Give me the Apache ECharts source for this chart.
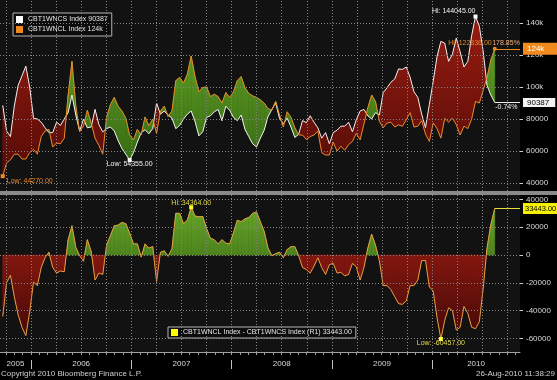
<!DOCTYPE html>
<html><head><meta charset="utf-8">
<script src="https://cdn.jsdelivr.net/npm/echarts@6/dist/echarts.min.js"></script>
<style>html,body{margin:0;padding:0;background:#000}#c{width:557px;height:380px}</style>
</head><body><div id="c"></div>
<script>
const dates = [
'2005-09-20','2005-10-04','2005-10-18','2005-11-01','2005-11-15','2005-11-29','2005-12-13','2005-12-27',
'2006-01-10','2006-01-24','2006-02-07','2006-02-21','2006-03-07','2006-03-21','2006-04-04','2006-04-18','2006-05-02','2006-05-16','2006-05-30','2006-06-13','2006-06-27','2006-07-11','2006-07-25','2006-08-08','2006-08-22','2006-09-05','2006-09-19','2006-10-03','2006-10-17','2006-10-31','2006-11-14','2006-11-28','2006-12-12','2006-12-26',
'2007-01-09','2007-01-23','2007-02-06','2007-02-20','2007-03-06','2007-03-20','2007-04-03','2007-04-17','2007-05-01','2007-05-15','2007-05-29','2007-06-12','2007-06-26','2007-07-10','2007-07-24','2007-08-07','2007-08-21','2007-09-04','2007-09-18','2007-10-02','2007-10-16','2007-10-30','2007-11-13','2007-11-27','2007-12-11','2007-12-25',
'2008-01-08','2008-01-22','2008-02-05','2008-02-19','2008-03-04','2008-03-18','2008-04-01','2008-04-15','2008-04-29','2008-05-13','2008-05-27','2008-06-10','2008-06-24','2008-07-08','2008-07-22','2008-08-05','2008-08-19','2008-09-02','2008-09-16','2008-09-30','2008-10-14','2008-10-28','2008-11-11','2008-11-25','2008-12-09','2008-12-23',
'2009-01-06','2009-01-20','2009-02-03','2009-02-17','2009-03-03','2009-03-17','2009-03-31','2009-04-14','2009-04-28','2009-05-12','2009-05-26','2009-06-09','2009-06-23','2009-07-07','2009-07-21','2009-08-04','2009-08-18','2009-09-01','2009-09-15','2009-09-29','2009-10-13','2009-10-27','2009-11-10','2009-11-24','2009-12-08','2009-12-22',
'2010-01-05','2010-01-19','2010-02-02','2010-02-16','2010-03-02','2010-03-16','2010-03-30','2010-04-13','2010-04-27','2010-05-11','2010-05-25','2010-06-08','2010-06-22','2010-07-06','2010-07-20','2010-08-03','2010-08-17'
];
// CBT1WNCS Index (white)
const ncsValues = [
88500,72500,69000,88000,101000,107000,113000,100000,
80500,80000,78000,74500,71500,71500,78000,76000,80000,84000,95000,82500,72500,80000,74500,75000,86000,76500,72000,74000,75000,72500,66500,61500,58000,54355,
59000,65500,71500,73300,70800,74000,90000,83000,85000,82500,80500,74000,76000,80000,83000,85000,78500,69500,72000,81000,82000,84500,86000,79000,88000,85500,
81000,79000,82500,73500,69000,64500,62500,68000,73000,81500,86000,90000,80500,77000,80500,75000,68500,70500,79000,77700,82000,78000,74500,68000,71500,64500,
71500,73000,75500,75500,78000,72000,79500,85000,86000,82000,80000,84000,82500,96500,99500,103000,105000,111300,111000,112500,106000,97000,93500,83000,74600,89000,
103500,119000,128500,127400,116000,120500,130500,122000,112500,116000,132000,144045,138000,122000,101000,95000,90387
];
// CBT1WNCL Index (orange)
const nclValues = [
44270,52500,54500,58000,58000,55000,55000,59000,
61000,58000,69000,72500,73500,62500,65000,64500,68000,95000,116000,88000,72000,75500,85500,77500,68000,63500,58000,81000,89000,93500,88000,85000,80500,70000,
67000,73500,70000,81300,75800,80000,71000,85000,88000,81500,85000,104000,106000,102500,108000,119364,106500,97000,99700,100000,94000,95500,94000,90000,96500,93500,
97000,104000,106500,99500,96000,94500,93500,92000,90000,86500,85500,91000,82500,75000,84500,81000,74500,70000,70000,67200,69000,70000,72500,59000,57500,57500,
65500,60000,63000,60500,64000,66000,71000,67000,77000,87000,95000,91000,78500,74500,77500,78000,75000,76300,75500,79500,84000,75000,75500,79000,70600,66000,
77500,74000,68043,80400,78000,80500,76500,70000,75500,74000,80000,91000,90000,98000,106000,117000,123830
];
const topTicks = [40000, 60000, 80000, 100000, 120000, 140000];
const bottomTicks = [-60000, -40000, -20000, 0, 20000, 40000];
const years = [2005, 2006, 2007, 2008, 2009, 2010];
const ncsName = 'CBT1WNCS Index';
const nclName = 'CBT1WNCL Index';
const diffName = 'CBT1WNCL Index - CBT1WNCS Index (R1)';
const ncsChangeText = '-0.74%';
const nclChangeText = '178.85%';
const nclHiText = 'Hi: 122836.00';
const axisStart = '2005-09-10', axisEnd = '2010-11-17';

const F = 'Liberation Sans';
function fy(y, m, d) {
  const a = Date.UTC(y, 0, 1), b = Date.UTC(y + 1, 0, 1);
  return y + (Date.UTC(y, m, d) - a) / (b - a);
}
const toYear = s => { const p = s.split('-').map(Number); return fy(p[0], p[1] - 1, p[2]); };
const T = dates.map(toYear);
const n = T.length;
const diffValues = nclValues.map((v, i) => v - ncsValues[i]);
const zeros = T.map(() => 0);
const xMin = toYear(axisStart), xMax = toYear(axisEnd);

const quarterTicks = [], monthTicks = [], yearTicks = [], yearLabelPos = [];
years.concat([2011]).forEach(y => {
  for (let m = 0; m < 12; m++) {
    const t = fy(y, m, 1);
    if (t > xMin && t < xMax) { monthTicks.push(t); if (m % 3 === 0) quarterTicks.push(t); if (m === 0) yearTicks.push(t); }
  }
});
years.forEach(y => {
  const a = Math.max(xMin, y), b = Math.min(xMax, y + 1);
  yearLabelPos.push((a + b) / 2);
});

function fillRenderer(lower, upper, pos, neg) {
  return function (params, api) {
    const i = params.dataIndex;
    if (i >= n - 1) return null;
    const cs = params.coordSys;
    const g = c => new echarts.graphic.LinearGradient(0, cs.y, 0, cs.y + cs.height,
      [{offset: 0, color: c[0]}, {offset: 1, color: c[1]}], true);
    const P = (t, v) => api.coord([t, v]);
    const a0 = lower[i], b0 = upper[i], a1 = lower[i + 1], b1 = upper[i + 1];
    const d0 = b0 - a0, d1 = b1 - a1;
    const t0 = T[i], t1 = T[i + 1];
    const kids = [];
    const poly = (pts, sign) => {
      const c = g(sign >= 0 ? pos : neg);
      kids.push({type: 'polygon', shape: {points: pts}, style: {fill: c, stroke: c, lineWidth: 0.6}});
    };
    if (d0 * d1 >= 0) {
      poly([P(t0, a0), P(t1, a1), P(t1, b1), P(t0, b0)], d0 + d1);
    } else {
      const s = d0 / (d0 - d1);
      const tc = t0 + s * (t1 - t0), vc = a0 + s * (a1 - a0);
      poly([P(t0, a0), P(tc, vc), P(t0, b0)], d0);
      poly([P(tc, vc), P(t1, a1), P(t1, b1)], d1);
    }
    return {type: 'group', children: kids};
  };
}

const dotted = {color: '#858585', type: [1, 2], width: 1};
const axisText = {fontFamily: F, fontSize: 8, color: '#d8d8d8'};
const lblText = {fontFamily: F, fontSize: 7};

// dotted grid lines drawn as mark lines through the axes' own scales
const gridSeries = (xi, yi, yTicks) => ({
  type: 'line', xAxisIndex: xi, yAxisIndex: yi, data: [], z: 2, silent: true,
  markLine: {silent: true, animation: false, symbol: ['none', 'none'], label: {show: false},
    lineStyle: dotted, emphasis: {disabled: true},
    data: quarterTicks.map(t => ({xAxis: t})).concat(yTicks.map(v => ({yAxis: v})))}
});

const chart = echarts.init(document.getElementById('c'), null, {renderer: 'canvas'});
chart.setOption({
  animation: false,
  backgroundColor: '#000',
  grid: [
    {left: 0, right: 37, top: 0, height: 191, show: true, backgroundColor: '#121212', borderWidth: 0},
    {left: 0, right: 37, top: 195, height: 157, show: true, backgroundColor: '#121212', borderWidth: 0}
  ],
  title: [
    {text: 'Copyright 2010 Bloomberg Finance L.P.', left: 1, top: 370, textStyle: {fontFamily: F, fontSize: 8, fontWeight: 'normal', color: '#d0d0d0'}, padding: 0},
    {text: '26-Aug-2010 11:38:29', right: 2, top: 370, textStyle: {fontFamily: F, fontSize: 8, fontWeight: 'normal', color: '#d0d0d0'}, padding: 0}
  ],
  legend: [
    {data: [{name: ncsName, itemStyle: {color: '#ffffff'}}, {name: nclName, itemStyle: {color: '#f08a1e'}}],
     orient: 'vertical', left: 13, top: 13, icon: 'rect', itemWidth: 7, itemHeight: 7, itemGap: 3,
     padding: [3, 4, 3, 3], backgroundColor: '#0c0c0c', borderColor: '#b4b4b4', borderWidth: 1, selectedMode: false,
     textStyle: {fontFamily: F, fontSize: 7, color: '#e4e4e4'},
     formatter: name => name === ncsName ? name + ' ' + ncsValues[n - 1] : name + ' ' + Math.round(nclValues[n - 1] / 1000) + 'k'},
    {data: [{name: diffName, itemStyle: {color: '#ffff00'}}], left: 168, top: 327, icon: 'rect', itemWidth: 7, itemHeight: 7,
     padding: [2, 4, 2, 3], backgroundColor: '#0c0c0c', borderColor: '#b4b4b4', borderWidth: 1, selectedMode: false,
     textStyle: {fontFamily: F, fontSize: 7, color: '#e4e4e4'},
     formatter: name => name + ' ' + diffValues[n - 1].toFixed(2)}
  ],
  graphic: [{type: 'rect', shape: {x: 0, y: 191, width: 557, height: 4}, style: {fill: '#8a8a8a'}, silent: true}],
  xAxis: [
    {gridIndex: 0, type: 'value', min: xMin, max: xMax, show: false},
    {gridIndex: 1, type: 'value', min: xMin, max: xMax, position: 'bottom',
     axisLine: {show: true, onZero: false, lineStyle: {color: '#a0a0a0', width: 1}},
     axisTick: {show: true, customValues: monthTicks, length: 3, lineStyle: {color: '#a0a0a0'}},
     axisLabel: {show: false}, splitLine: {show: false}},
    {gridIndex: 1, type: 'value', min: xMin, max: xMax, position: 'bottom', offset: 8,
     axisLine: {show: false, onZero: false},
     axisTick: {show: true, customValues: yearTicks, length: 9, lineStyle: {color: '#c0c0c0'}},
     axisLabel: Object.assign({show: true, customValues: yearLabelPos, margin: 0,
       formatter: v => String(Math.floor(v))}, axisText),
     splitLine: {show: false}}
  ],
  yAxis: [
    {gridIndex: 0, type: 'value', position: 'right', min: 35000, max: 154375,
     axisLine: {show: false}, axisTick: {show: true, customValues: topTicks, length: 3, lineStyle: {color: '#cfcfcf'}},
     axisLabel: Object.assign({customValues: topTicks, margin: 6, formatter: v => v >= 100000 ? (v / 1000) + 'k' : String(v)}, axisText),
     splitLine: {show: false}},
    {gridIndex: 1, type: 'value', position: 'right', min: -69784, max: 43165,
     axisLine: {show: false}, axisTick: {show: true, customValues: bottomTicks, length: 3, lineStyle: {color: '#cfcfcf'}},
     axisLabel: Object.assign({customValues: bottomTicks, margin: 6, formatter: v => String(v)}, axisText),
     splitLine: {show: false}}
  ],
  series: [
    {type: 'custom', xAxisIndex: 0, yAxisIndex: 0, silent: true, z: 1,
     data: T.map((t, i) => [t, ncsValues[i], nclValues[i]]), encode: {x: 0, y: [1, 2]},
     renderItem: fillRenderer(ncsValues, nclValues, ['#6eb02a', '#2e6010'], ['#a01e12', '#500a06'])},
    gridSeries(0, 0, topTicks),
    {type: 'line', name: ncsName, xAxisIndex: 0, yAxisIndex: 0, z: 3, showSymbol: false, color: '#ffffff',
     lineStyle: {color: '#eeeeee', width: 1}, data: T.map((t, i) => [t, ncsValues[i]]),
     markPoint: {silent: true, animation: false, symbol: 'rect', symbolSize: 4,
       data: [
         {type: 'max', valueDim: 'y', itemStyle: {color: '#ffffff'}, label: Object.assign({show: true, position: 'left', distance: 1, offset: [3, -5], color: '#f0f0f0', formatter: p => 'Hi: ' + p.value.toFixed(2)}, lblText)},
         {type: 'min', valueDim: 'y', itemStyle: {color: '#ffffff'}, label: Object.assign({show: true, position: 'bottom', distance: -1, color: '#f0f0f0', formatter: p => 'Low: ' + p.value.toFixed(2)}, lblText)},
         {coord: [T[n - 1], ncsValues[n - 1]], symbolSize: 1, itemStyle: {color: 'rgba(0,0,0,0)'}, label: Object.assign({show: true, position: 'right', distance: 2, offset: [-2, 5], color: '#f0f0f0', formatter: ncsChangeText}, lblText)}
       ]},
     markLine: {silent: true, animation: false, symbol: ['none', 'none'], lineStyle: {color: '#eeeeee', width: 1, type: 'solid'},
       label: {show: true, position: 'end', distance: 3, formatter: String(ncsValues[n - 1]), backgroundColor: '#f2f2f2', color: '#000', padding: [1, 6, 0, 4], fontFamily: F, fontSize: 8},
       data: [[{coord: [T[n - 1], ncsValues[n - 1]]}, {coord: [xMax, ncsValues[n - 1]]}]]}},
    {type: 'line', name: nclName, xAxisIndex: 0, yAxisIndex: 0, z: 3, showSymbol: false, color: '#f08a1e',
     lineStyle: {color: '#e88a2a', width: 1}, data: T.map((t, i) => [t, nclValues[i]]),
     markPoint: {silent: true, animation: false, symbol: 'rect', symbolSize: 4,
       data: [
         {type: 'min', valueDim: 'y', itemStyle: {color: '#f08a1e'}, label: Object.assign({show: true, position: 'bottom', distance: -1, offset: [27, 0], color: '#e8862a', formatter: p => 'Low: ' + p.value.toFixed(2)}, lblText)},
         {coord: [T[n - 1], nclValues[n - 1]], symbol: 'circle', itemStyle: {color: '#f08a1e'}, label: Object.assign({show: true, position: 'left', distance: 1, offset: [0, -6], color: '#e8862a', formatter: nclHiText}, lblText)},
         {coord: [T[n - 1], nclValues[n - 1]], symbolSize: 1, itemStyle: {color: 'rgba(0,0,0,0)'}, label: Object.assign({show: true, position: 'right', distance: 1, offset: [-4, -6], color: '#f2b27a', formatter: nclChangeText}, lblText)}
       ]},
     markLine: {silent: true, animation: false, symbol: ['none', 'none'], lineStyle: {color: '#f08a1e', width: 1, type: 'solid'},
       label: {show: true, position: 'end', distance: 3, formatter: Math.round(nclValues[n - 1] / 1000) + 'k', backgroundColor: '#f08a1e', color: '#ffffff', padding: [2, 14, 2, 4], fontFamily: F, fontSize: 8},
       data: [[{coord: [T[n - 1], nclValues[n - 1]]}, {coord: [xMax, nclValues[n - 1]]}]]}},
    {type: 'custom', xAxisIndex: 1, yAxisIndex: 1, silent: true, z: 1,
     data: T.map((t, i) => [t, 0, diffValues[i]]), encode: {x: 0, y: [1, 2]},
     renderItem: fillRenderer(zeros, diffValues, ['#6cb02a', '#1c3a08'], ['#b02214', '#3c0606'])},
    gridSeries(1, 1, bottomTicks),
    {type: 'line', name: diffName, xAxisIndex: 1, yAxisIndex: 1, z: 3, showSymbol: false, color: '#ffff00',
     lineStyle: {color: '#e6a040', width: 1}, data: T.map((t, i) => [t, diffValues[i]]),
     markPoint: {silent: true, animation: false, symbol: 'rect', symbolSize: 4,
       data: [
         {type: 'max', valueDim: 'y', itemStyle: {color: '#ffff30'}, label: Object.assign({show: true, position: 'top', distance: -1, color: '#e4dc50', formatter: p => 'Hi: ' + p.value.toFixed(2)}, lblText)},
         {type: 'min', valueDim: 'y', itemStyle: {color: '#ffff30'}, label: Object.assign({show: true, position: 'bottom', distance: -1, color: '#e4dc50', formatter: p => 'Low: ' + p.value.toFixed(2)}, lblText)}
       ]},
     markLine: {silent: true, animation: false, symbol: ['none', 'none'], lineStyle: {color: '#e8e040', width: 1, type: 'solid'},
       label: {show: true, position: 'end', distance: 3, formatter: diffValues[n - 1].toFixed(2), backgroundColor: '#f4f000', color: '#000', padding: [2, 1, 1, 2], fontFamily: F, fontSize: 7.5},
       data: [[{coord: [T[n - 1], diffValues[n - 1]]}, {coord: [xMax, diffValues[n - 1]]}]]}}
  ]
});
</script>
</body></html>
